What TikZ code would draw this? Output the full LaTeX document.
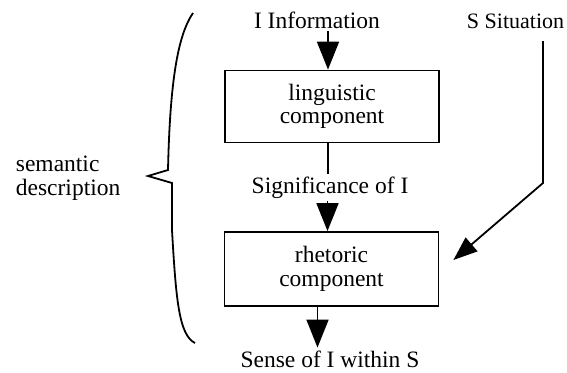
\documentclass[tikz,border=0pt]{standalone}
\usepackage{fontspec}
\setmainfont{Liberation Serif}
\usepackage{tikz}
\usetikzlibrary{arrows.meta}
\tikzset{component/.style={draw, rectangle, minimum width=214pt, minimum height=72pt, align=center, inner sep=0pt},
  flowtext/.style={inner sep=2pt}}

\begin{document}
\begin{tikzpicture}[x=1pt, y=-1pt, line width=1.8pt, >={Triangle[width=22pt,length=28pt]}, font=\fontsize{23.5}{23.5}\selectfont]
\useasboundingbox (0,0) rectangle (567,372);
\node[flowtext, anchor=base] (info) at (317,28) {I Information};
\node[flowtext, anchor=base east, inner sep=0pt, font=\fontsize{22}{22}\selectfont] (situation) at (565,28) {S Situation};
\node[component] (ling) at (332,106.5) {linguistic\\component};
\node[flowtext, anchor=base] (signif) at (330,193) {Significance of I};
\node[component, minimum height=74pt] (rhet) at (331.5,269) {rhetoric\\component};
\node[flowtext, anchor=base] (sense) at (330,367) {Sense of I within S};
\node[flowtext, anchor=west, align=left, inner sep=0pt] (semdesc) at (15,178) {semantic\\description};
\coordinate (sitbend) at (543,183);
% main flow
\draw[->] ([xshift=-4pt]ling.north |- info.south) -- ([xshift=-4pt]ling.north);
\draw ([xshift=-4pt]ling.south) -- ([xshift=-4pt]ling.south |- signif.north);
\draw[->] ([xshift=-4pt]rhet.north |- signif.south) -- ([xshift=-4pt]rhet.north);
\draw[->] ([xshift=-14pt]rhet.south) -- ([xshift=-14pt]rhet.south |- sense.north);
% situation enters the rhetoric part
\draw[-{Triangle[width=18pt,length=24pt]}, shorten <=12pt] (situation.south -| sitbend) -- (sitbend) -- ([xshift=14pt,yshift=9pt]rhet.east);
% brace
\draw (193,13) .. controls (178,35) and (170,80) .. (168,170) -- (148,176) -- (172,183) -- (172,230) .. controls (176,300) and (179,335) .. (195,343);
\end{tikzpicture}
\end{document}
